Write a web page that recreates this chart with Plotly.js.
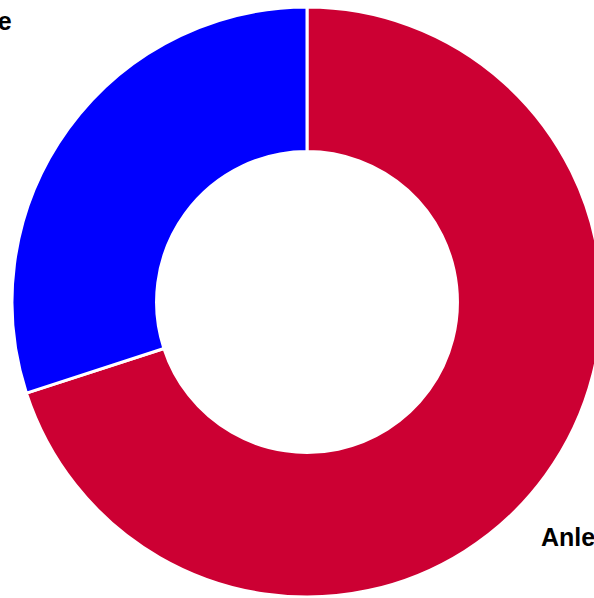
<!DOCTYPE html>
<html>
<head>
<meta charset="utf-8">
<script src="https://cdn.plot.ly/plotly-3.0.1.min.js"></script>
<style>
html, body { margin: 0; padding: 0; overflow: hidden; background: #fff; }
#chart { width: 614px; height: 598px; }
</style>
</head>
<body>
<div id="chart"></div>
<script>
const labels = ["Anleihen", "Rohstoffe"];
const values = [70.0, 30.0];
const colors = ["#CC0033", "#0000FF"];

const labelFont = { family: "Liberation Sans, Arial, sans-serif", size: 25, color: "#000000", weight: "bold" };

Plotly.newPlot("chart", [{
  type: "pie",
  labels: labels,
  values: values,
  hole: 0.51,
  sort: false,
  direction: "clockwise",
  rotation: 0,
  marker: { colors: colors, line: { color: "#ffffff", width: 3 } },
  textinfo: "none",
  hoverinfo: "none"
}], {
  width: 614,
  height: 598,
  margin: { l: 12, r: 12, t: 7, b: 1 },
  showlegend: false,
  paper_bgcolor: "#ffffff",
  annotations: [
    { text: "<b>" + labels[0] + "</b>", xref: "paper", yref: "paper", x: 0.893, y: 0.1025,
      xanchor: "left", yanchor: "middle", showarrow: false, font: labelFont },
    { text: "<b>" + labels[1] + "</b>", xref: "paper", yref: "paper", x: 0.004, y: 0.976,
      xanchor: "right", yanchor: "middle", showarrow: false, font: labelFont }
  ]
}, { displayModeBar: false, staticPlot: true });
</script>
</body>
</html>
